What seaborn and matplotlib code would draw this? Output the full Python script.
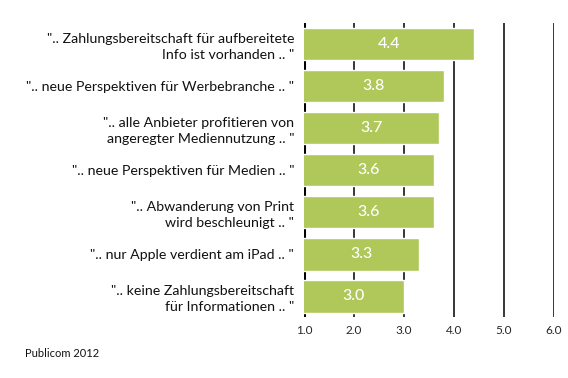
import matplotlib
matplotlib.use("Agg")
import matplotlib.pyplot as plt
import seaborn as sns
import pandas as pd

labels = [
    '".. Zahlungsbereitschaft für aufbereitete\nInfo ist vorhanden .. "',
    '".. neue Perspektiven für Werbebranche .. "',
    '".. alle Anbieter profitieren von\nangeregter Mediennutzung .. "',
    '".. neue Perspektiven für Medien .. "',
    '".. Abwanderung von Print\nwird beschleunigt .. "',
    '".. nur Apple verdient am iPad .. "',
    '".. keine Zahlungsbereitschaft\nfür Informationen .. "',
]
values = [4.4, 3.8, 3.7, 3.6, 3.6, 3.3, 3.0]
ticks = [1.0, 2.0, 3.0, 4.0, 5.0, 6.0]

df = pd.DataFrame({"label": labels, "value": values})

sns.set_style("white")
plt.rcParams["font.family"] = ["Lato", "DejaVu Sans"]

fig = plt.figure(figsize=(5.68, 3.78), dpi=100)
ax = fig.add_axes([0.535, 0.161, 0.44, 0.778])

# vertical grid lines, the one at 1.0 a bit heavier
for t in ticks:
    ax.axvline(t, color="black", lw=2.2 if t == 1.0 else 1.1, zorder=0)

sns.barplot(data=df, x="value", y="label", color="#b0c85a", saturation=1,
            width=0.78, ax=ax, zorder=2)

for i, v in enumerate(values):
    ax.text((1 + v) / 2, i, f"{v:.1f}", color="white", ha="center",
            va="center", fontsize=11.5, fontweight="medium", zorder=3)

ax.set_xlim(1, 6.0)
ax.set_ylim(6.5, -0.5)
ax.set_xticks(ticks)
ax.set_xticklabels([f"{t:.1f}" for t in ticks], fontsize=8.5)
ax.tick_params(axis="x", length=0, pad=6)
ax.tick_params(axis="y", length=0, pad=7)
ax.set_yticks(range(len(labels)))
ax.set_yticklabels(labels, fontsize=10.2, ha="right", multialignment="right",
                   color="#111111", linespacing=1.4)
ax.set_xlabel("")
ax.set_ylabel("")
for s in ax.spines.values():
    s.set_visible(False)

fig.text(0.044, 0.055, "Publicom 2012", fontsize=8, color="#111111")

fig.savefig("out.png", dpi=100)
